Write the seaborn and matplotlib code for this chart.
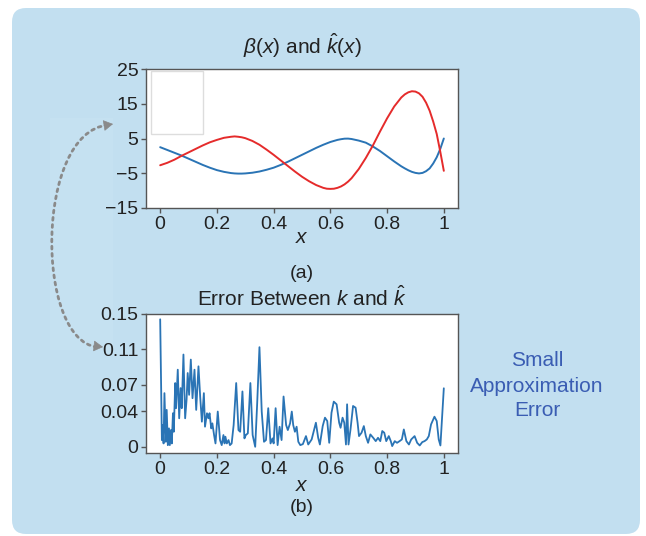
import numpy as np
import pandas as pd
import matplotlib
matplotlib.use("Agg")
import matplotlib.pyplot as plt
import seaborn as sns
from matplotlib.patches import FancyBboxPatch, FancyArrowPatch, Rectangle
from matplotlib.path import Path
from matplotlib.transforms import IdentityTransform

# ---------------- data ----------------
x_top = [0.0, 0.025, 0.05, 0.075, 0.1, 0.125, 0.15, 0.175, 0.2, 0.225,
         0.25, 0.2625, 0.275, 0.2875, 0.3, 0.325, 0.35, 0.375, 0.4, 0.425,
         0.45, 0.475, 0.5, 0.525, 0.55, 0.575, 0.5875, 0.6, 0.6125, 0.625,
         0.6375, 0.65, 0.6625, 0.675, 0.7, 0.725, 0.75, 0.775, 0.8, 0.825,
         0.85, 0.8625, 0.875, 0.8875, 0.9, 0.9125, 0.925, 0.9375, 0.95, 0.9625,
         0.975, 0.9875, 1.0]
beta_vals = [2.5, 1.7, 0.9, 0.1, -0.8, -1.7, -2.6, -3.4, -4.1, -4.6,
             -4.95, -5.05, -5.1, -5.1, -5.05, -4.85, -4.5, -4.0, -3.4, -2.6,
             -1.7, -0.7, 0.3, 1.3, 2.3, 3.2, 3.6, 4.0, 4.3, 4.6,
             4.8, 4.95, 4.97, 4.85, 4.4, 3.8, 2.7, 1.4, -0.1, -1.6,
             -3.0, -3.6, -4.15, -4.6, -4.9, -5.05, -4.9, -4.4, -3.6, -2.2,
             -0.4, 2.0, 5.0]
khat_vals = [-2.7, -2.0, -1.1, 0.0, 1.0, 2.0, 3.0, 3.9, 4.6, 5.2,
             5.5, 5.6, 5.5, 5.35, 5.1, 4.3, 3.2, 1.8, 0.3, -1.3,
             -2.9, -4.5, -6.0, -7.3, -8.4, -9.2, -9.45, -9.5, -9.45, -9.2,
             -8.8, -8.2, -7.4, -6.4, -3.8, -0.6, 3.0, 7.0, 10.8, 14.2,
             16.8, 17.7, 18.3, 18.6, 18.5, 18.0, 17.0, 15.3, 13.0, 9.9,
             6.3, 1.2, -4.3]

x_err = [0.0, 0.006, 0.008, 0.012, 0.015, 0.020, 0.023, 0.027, 0.031, 0.034,
         0.038, 0.041, 0.045, 0.048, 0.053, 0.056, 0.062, 0.067, 0.072, 0.076,
         0.082, 0.088, 0.093, 0.097, 0.102, 0.108, 0.114, 0.121, 0.127, 0.135,
         0.141, 0.147, 0.154, 0.158, 0.165, 0.170, 0.174, 0.180, 0.184, 0.190,
         0.195, 0.203, 0.211, 0.217, 0.223, 0.227, 0.230, 0.235, 0.241, 0.246,
         0.252, 0.259, 0.268, 0.276, 0.282, 0.290, 0.297, 0.302, 0.309, 0.318,
         0.326, 0.335, 0.342, 0.350, 0.358, 0.366, 0.373, 0.381, 0.389, 0.396,
         0.400, 0.407, 0.414, 0.421, 0.428, 0.435, 0.444, 0.450, 0.458, 0.464,
         0.469, 0.475, 0.481, 0.487, 0.494, 0.503, 0.514, 0.522, 0.534, 0.540,
         0.549, 0.557, 0.563, 0.573, 0.581, 0.589, 0.596, 0.604, 0.612, 0.622,
         0.631, 0.636, 0.643, 0.649, 0.655, 0.659, 0.664, 0.671, 0.680, 0.689,
         0.696, 0.701, 0.710, 0.718, 0.725, 0.733, 0.741, 0.751, 0.760, 0.768,
         0.776, 0.783, 0.790, 0.797, 0.806, 0.813, 0.818, 0.827, 0.835, 0.844,
         0.852, 0.859, 0.868, 0.877, 0.885, 0.897, 0.906, 0.915, 0.924, 0.932,
         0.940, 0.947, 0.955, 0.967, 0.975, 0.982, 0.988, 1.000]
err_vals = [0.144, 0.0076, 0.0246, 0.0038, 0.0606, 0.0057, 0.0417, 0.0019, 0.0208, 0.0019,
            0.0189, 0.0038, 0.0379, 0.0170, 0.0720, 0.0436, 0.0871, 0.0322, 0.0663, 0.0436,
            0.1042, 0.0322, 0.0530, 0.0833, 0.0587, 0.0985, 0.0549, 0.0871, 0.0417, 0.0909,
            0.0568, 0.0284, 0.0606, 0.0227, 0.0379, 0.0322, 0.0379, 0.0208, 0.0265, 0.0133,
            0.0038, 0.0398, 0.0076, 0.0019, 0.0133, 0.0038, 0.0114, 0.0038, 0.0076, 0.0019,
            0.0038, 0.0246, 0.0720, 0.0189, 0.0170, 0.0625, 0.0095, 0.0133, 0.0152, 0.0720,
            0.0133, 0.0000, 0.0492, 0.1125, 0.0398, 0.0057, 0.0076, 0.0436, 0.0038, 0.0095,
            0.0038, 0.0436, 0.0019, 0.0227, 0.0076, 0.0568, 0.0246, 0.0189, 0.0265, 0.0398,
            0.0246, 0.0170, 0.0227, 0.0057, 0.0019, 0.0030, 0.0121, 0.0026, 0.0083, 0.0159,
            0.0272, 0.0102, 0.0026, 0.0234, 0.0329, 0.0291, 0.0045, 0.0385, 0.0510, 0.0480,
            0.0272, 0.0215, 0.0329, 0.0272, 0.0026, 0.0480, 0.0026, 0.0196, 0.0461, 0.0442,
            0.0272, 0.0121, 0.0159, 0.0234, 0.0121, 0.0045, 0.0140, 0.0102, 0.0064, 0.0102,
            0.0064, 0.0178, 0.0159, 0.0064, 0.0121, 0.0064, 0.0008, 0.0064, 0.0045, 0.0064,
            0.0083, 0.0196, 0.0064, 0.0026, 0.0083, 0.0121, 0.0045, 0.0015, 0.0053, 0.0064,
            0.0083, 0.0121, 0.0253, 0.0340, 0.0291, 0.0083, 0.0015, 0.0661]

x_ticks = [0, 0.2, 0.4, 0.6, 0.8, 1]
x_ticklabels = ["0", "0.2", "0.4", "0.6", "0.8", "1"]
top_yticks = [-15, -5, 5, 15, 25]
err_yticks = [0, 0.04, 0.07, 0.11, 0.15]
err_yticklabels = ["0", "0.04", "0.07", "0.11", "0.15"]

# ---------------- style ----------------
sns.set_style("ticks")
plt.rcParams["font.family"] = ["Liberation Sans", "DejaVu Sans"]
plt.rcParams["mathtext.fontset"] = "custom"
plt.rcParams["mathtext.rm"] = "Liberation Sans"
plt.rcParams["mathtext.it"] = "Liberation Sans:italic"
plt.rcParams["mathtext.bf"] = "Liberation Sans:bold"

BG = "#c2dff0"
SPINE = "#555555"
TXT = "#222222"

W, H = 646, 536
fig = plt.figure(figsize=(W / 100, H / 100), dpi=100, facecolor="white")

# rounded light-blue panel
panel = FancyBboxPatch((12, 2), 628, 526, boxstyle="round,pad=0,rounding_size=14",
                       transform=IdentityTransform(), facecolor=BG, edgecolor="none", zorder=0)
fig.patches.append(panel)
# subtle lighter strip behind the arrow
strip = Rectangle((50, H - 350), 63, 232, transform=IdentityTransform(),
                  facecolor="#c5e1f1", edgecolor="none", zorder=0.5)
fig.patches.append(strip)

ax1 = fig.add_axes([146 / W, (H - 208) / H, 312 / W, 139 / H])
ax2 = fig.add_axes([146 / W, (H - 453) / H, 312 / W, 139 / H])
ax1.set_zorder(5)
ax2.set_zorder(5)

df_top = pd.DataFrame({"x": x_top, "beta": beta_vals, "khat": khat_vals})
df_err = pd.DataFrame({"x": x_err, "err": err_vals})

sns.lineplot(data=df_top, x="x", y="beta", ax=ax1, color="#2a74b5", lw=1.4, legend=False)
sns.lineplot(data=df_top, x="x", y="khat", ax=ax1, color="#e52b2b", lw=1.4, legend=False)
sns.lineplot(data=df_err, x="x", y="err", ax=ax2, color="#2a74b5", lw=1.3, legend=False)

for ax in (ax1, ax2):
    ax.set_facecolor("white")
    ax.set_xlim(-0.05, 1.05)
    ax.set_xticks(x_ticks)
    ax.set_xticklabels(x_ticklabels)
    for s in ax.spines.values():
        s.set_color(SPINE)
        s.set_linewidth(1.0)
        s.set_visible(True)
    ax.tick_params(axis="both", colors=SPINE, labelcolor=TXT, labelsize=14,
                   length=3.5, width=1.0, pad=2)
    ax.set_ylabel("")

ax1.set_ylim(-15, 25)
ax1.set_yticks(top_yticks)
ax2.set_ylim(-0.007, 0.15)
ax2.set_yticks(err_yticks)
ax2.set_yticklabels(err_yticklabels)

ax1.set_title(r"$\beta(x)$ and $\hat{k}(x)$", fontsize=15, color=TXT, pad=11)
ax2.set_title(r"Error Between $k$ and $\hat{k}$", fontsize=15, color=TXT, pad=6)
ax1.set_xlabel(r"$x$", fontsize=15, color=TXT, labelpad=-3)
ax2.set_xlabel(r"$x$", fontsize=15, color=TXT, labelpad=-1)

# empty legend-like frame
ax1.add_patch(Rectangle((0.016, 0.53), 0.167, 0.455, transform=ax1.transAxes,
                        facecolor="white", edgecolor="#dddddd", lw=1.0, zorder=3))

fig.text(302 / W, 1 - 274 / H, "(a)", ha="center", va="center", fontsize=14, color=TXT)
fig.text(302 / W, 1 - 508 / H, "(b)", ha="center", va="center", fontsize=14, color=TXT)

blue_txt = "#3a5db3"
for txt, yy in (("Small", 360), ("Approximation", 386), ("Error", 411)):
    fig.text(537 / W, 1 - yy / H, txt, ha="center", va="center", fontsize=15, color=blue_txt)

# dotted curved double arrow (pixel coords, y flipped)
def P(x, y):
    return (x, H - y)

verts = [P(108, 125), P(35, 132), P(35, 340), P(97, 347)]
codes = [Path.MOVETO, Path.CURVE4, Path.CURVE4, Path.CURVE4]
arr = FancyArrowPatch(path=Path(verts, codes), arrowstyle="-",
                      linestyle=(0, (1, 1.6)), lw=2.0, color="#8a8a8a",
                      transform=IdentityTransform())
fig.patches.append(arr)
for (tip, base) in ((P(113, 124), P(104, 125.5)), (P(103, 347), P(94, 346))):
    head = FancyArrowPatch(base, tip, arrowstyle="-|>,head_length=6,head_width=3.5",
                           lw=0.5, color="#8a8a8a", transform=IdentityTransform(),
                           shrinkA=0, shrinkB=0)
    fig.patches.append(head)

fig.savefig("out.png", dpi=100, facecolor="white")
